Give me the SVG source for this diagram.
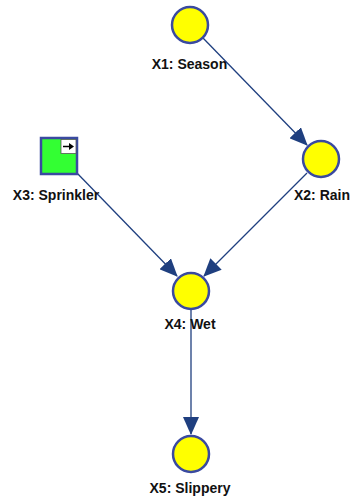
<svg xmlns="http://www.w3.org/2000/svg" width="351" height="499" viewBox="0 0 351 499">
<defs>
<marker id="ah" markerWidth="18" markerHeight="16" refX="17" refY="8" orient="auto" markerUnits="userSpaceOnUse">
<path d="M0,0 L18,8 L0,16 Z" fill="#1f3f7f"/>
</marker>
<style>
.n{fill:#ffff00;stroke:#3a4aa0;stroke-width:2.5}
.e{stroke:#1f3f7f;stroke-width:1.3;fill:none;marker-end:url(#ah)}
.t{font-family:"Liberation Sans",Arial,sans-serif;font-weight:bold;font-size:14px;fill:#111;text-anchor:middle}
</style>
</defs>
<rect width="351" height="499" fill="#fff"/>
<g id="edges">
<line class="e" x1="203" y1="38" x2="307" y2="145"/>
<line class="e" x1="307" y1="173" x2="204" y2="276"/>
<line class="e" x1="76" y1="172" x2="177" y2="276"/>
<line class="e" x1="191" y1="310" x2="191" y2="434"/>
</g>
<g id="x1">
<circle class="n" cx="190" cy="25" r="18"/>
<text class="t" x="189.5" y="69">X1: Season</text>
</g>
<g id="x2">
<circle class="n" cx="321" cy="159" r="18"/>
<text class="t" x="294" y="200" style="text-anchor:start" textLength="56" lengthAdjust="spacingAndGlyphs">X2: Rain</text>
</g>
<g id="x3">
<rect x="41" y="138" width="36" height="36" fill="#33ff33" stroke="#3a4aa0" stroke-width="2.5"/>
<rect x="61" y="139.5" width="15" height="14" fill="#fff" stroke="#555" stroke-width="0.8"/>
<path d="M63,146.5 H70" stroke="#000" stroke-width="1.5"/>
<path d="M69,143 L74,146.5 L69,150 Z" fill="#000"/>
<text class="t" x="56" y="200">X3: Sprinkler</text>
</g>
<g id="x4">
<circle class="n" cx="191" cy="291" r="18"/>
<text class="t" x="190" y="329">X4: Wet</text>
</g>
<g id="x5">
<circle class="n" cx="191" cy="454" r="18"/>
<text class="t" x="190" y="493">X5: Slippery</text>
</g>
</svg>
